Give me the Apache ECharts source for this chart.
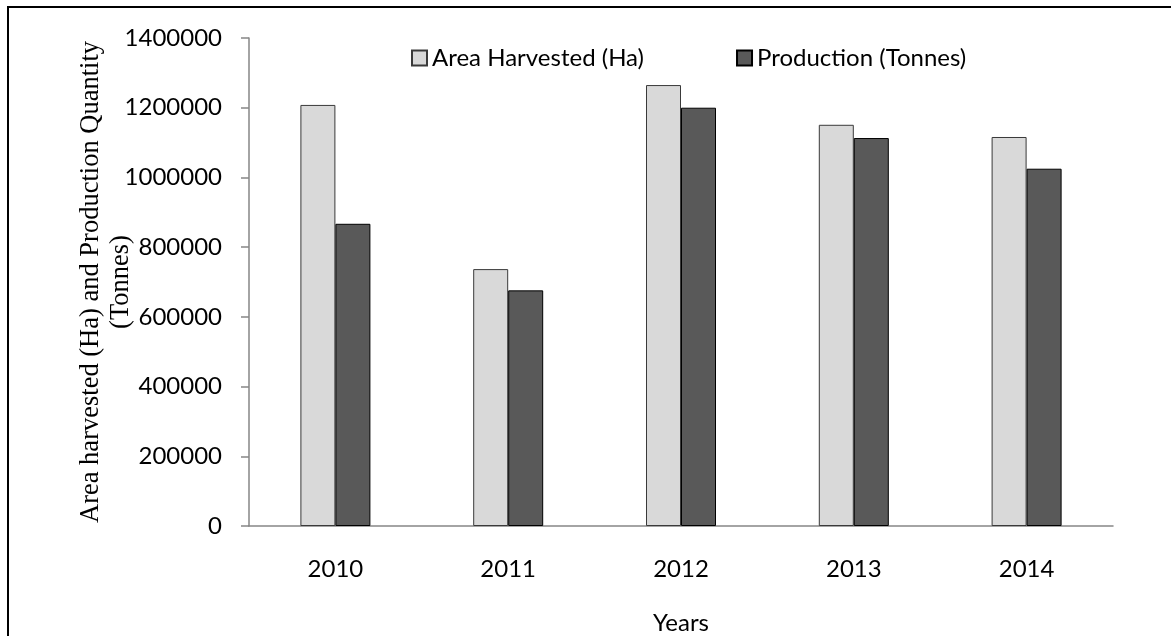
<!DOCTYPE html>
<html>
<head>
<meta charset="utf-8">
<script src="https://cdn.jsdelivr.net/npm/echarts@6/dist/echarts.min.js"></script>
<style>
  html, body { margin: 0; padding: 0; background: #fff; overflow: hidden; }
  #frame { position: absolute; left: 7px; top: 6px; width: 1200px; height: 700px;
           border-left: 2px solid #000; border-top: 2px solid #000; }
  #chart { position: absolute; left: 0; top: 0; width: 1171px; height: 636px; }
</style>
</head>
<body>
<div id="frame"></div>
<div id="chart"></div>
<script>
// Harvested area and production by year
const years = ['2010', '2011', '2012', '2013', '2014'];
const areaHarvested = [1208000, 737000, 1265000, 1151000, 1116000];
const production = [867000, 676000, 1200000, 1113000, 1025000];
const yTicks = { min: 0, max: 1400000, interval: 200000 };

const sans = 'Lato';
const chart = echarts.init(document.getElementById('chart'));
chart.setOption({
  animation: false,
  backgroundColor: 'transparent',
  grid: { left: 249, right: 58, top: 38, bottom: 110, outerBoundsMode: 'none', containLabel: false },
  legend: {
    top: 41,
    left: 406,
    itemWidth: 15,
    itemHeight: 15,
    itemGap: 92,
    icon: 'rect',
    textStyle: { fontFamily: sans, fontSize: 24, color: '#000' },
    data: ['Area Harvested (Ha)', 'Production (Tonnes)']
  },
  xAxis: {
    type: 'category',
    data: years,
    name: 'Years',
    nameLocation: 'middle',
    nameGap: 85,
    nameMoveOverlap: false,
    nameTextStyle: { fontFamily: sans, fontSize: 24, color: '#000' },
    axisLine: { lineStyle: { color: '#868686', width: 1.5 } },
    axisTick: { show: false },
    axisLabel: { fontFamily: sans, fontSize: 24, color: '#000', margin: 31 }
  },
  yAxis: {
    type: 'value',
    min: yTicks.min,
    max: yTicks.max,
    interval: yTicks.interval,
    name: 'Area harvested (Ha) and Production Quantity\n(Tonnes)',
    nameLocation: 'middle',
    nameRotate: 90,
    nameGap: 113,
    nameMoveOverlap: false,
    nameTextStyle: { fontFamily: 'Liberation Serif', fontSize: 26.5, lineHeight: 30, color: '#000' },
    axisLine: { show: true, lineStyle: { color: '#868686', width: 1.5 } },
    axisTick: { show: true, length: 8, lineStyle: { color: '#868686', width: 1.5 } },
    axisLabel: {
      fontFamily: sans, fontSize: 24, color: '#000', margin: 27,
      formatter: (v) => String(v)
    },
    splitLine: { show: false }
  },
  series: [
    {
      name: 'Area Harvested (Ha)',
      type: 'bar',
      data: areaHarvested,
      barWidth: 35,
      barGap: '0%',
      itemStyle: { color: '#d9d9d9', borderColor: '#3a3a3a', borderWidth: 1 }
    },
    {
      name: 'Production (Tonnes)',
      type: 'bar',
      data: production,
      barWidth: 35,
      barGap: '0%',
      itemStyle: { color: '#595959', borderColor: '#000', borderWidth: 1 }
    }
  ]
});
</script>
</body>
</html>
